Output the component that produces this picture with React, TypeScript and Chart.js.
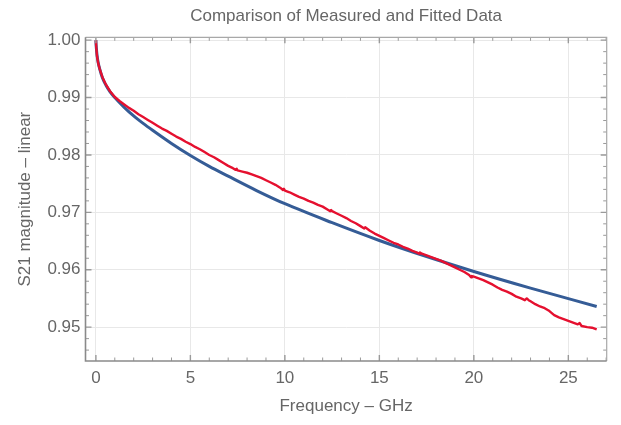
import React, { useEffect, useRef } from "react";
import { Chart, registerables } from "chart.js";

Chart.register(...registerables);

const chartTitle = "Comparison of Measured and Fitted Data";
const xTitle = "Frequency \u2013 GHz";
const yTitle = "S21 magnitude \u2013 linear";

// Measured S21 (red)
const freqMeasured = [
  0, 0.02, 0.06, 0.12, 0.2, 0.35, 0.54, 0.75, 1.0, 1.25, 1.5, 1.75, 2.0, 2.25, 2.5, 2.75, 3.0, 3.25, 3.5, 3.75,
  4.0, 4.25, 4.5, 4.75, 5.0, 5.25, 5.5, 5.75, 6.0, 6.25, 6.5, 6.75, 7.0, 7.25, 7.4, 7.45, 7.5, 7.75, 8.0, 8.25,
  8.5, 8.75, 9.0, 9.25, 9.5, 9.75, 9.9, 9.95, 10.0, 10.25, 10.5, 10.75, 11.0, 11.25, 11.5, 11.75, 12.0, 12.25, 12.4, 12.45,
  12.5, 12.75, 13.0, 13.25, 13.5, 13.75, 14.0, 14.2, 14.25, 14.5, 14.75, 15.0, 15.25, 15.5, 15.75, 16.0, 16.25, 16.5, 16.75, 17.0,
  17.1, 17.15, 17.25, 17.5, 17.75, 18.0, 18.25, 18.5, 18.75, 19.0, 19.25, 19.5, 19.75, 19.85, 19.9, 20.0, 20.25, 20.5, 20.75, 21.0,
  21.25, 21.5, 21.75, 22.0, 22.25, 22.5, 22.7, 22.8, 22.9, 23.0, 23.25, 23.5, 23.75, 24.0, 24.25, 24.5, 24.75, 25.0, 25.25, 25.5,
  25.6, 25.7, 26.0, 26.25, 26.5,
];
const s21Measured = [
  1.0, 0.9987, 0.9972, 0.996, 0.995, 0.9935, 0.9922, 0.9911, 0.9901, 0.9894, 0.9888, 0.9882, 0.9877, 0.9871, 0.9866, 0.9861, 0.9856, 0.9851, 0.9846, 0.9842,
  0.9837, 0.9832, 0.9828, 0.9823, 0.9819, 0.9814, 0.981, 0.9805, 0.98, 0.9796, 0.9791, 0.9786, 0.9781, 0.9777, 0.9774, 0.9776, 0.9773, 0.9771, 0.9769, 0.9766,
  0.9763, 0.976, 0.9756, 0.9752, 0.9748, 0.9743, 0.9739, 0.9741, 0.9738, 0.9735, 0.9731, 0.9727, 0.9724, 0.972, 0.9717, 0.9713, 0.971, 0.9705, 0.9702, 0.9704,
  0.9702, 0.9698, 0.9694, 0.969, 0.9685, 0.9681, 0.9676, 0.9672, 0.9674, 0.9668, 0.9663, 0.9659, 0.9655, 0.9651, 0.9647, 0.9644, 0.964, 0.9637, 0.9633, 0.963,
  0.9628, 0.963, 0.9628, 0.9625, 0.9622, 0.9619, 0.9616, 0.9612, 0.9608, 0.9604, 0.96, 0.9596, 0.9591, 0.9587, 0.9589, 0.9588, 0.9585, 0.9582, 0.9578, 0.9574,
  0.9569, 0.9565, 0.9562, 0.9558, 0.9553, 0.955, 0.9547, 0.955, 0.9547, 0.9545, 0.954, 0.9536, 0.9533, 0.9528, 0.9521, 0.9517, 0.9514, 0.9511, 0.9508, 0.9505,
  0.9507, 0.9502, 0.95, 0.9499, 0.9496,
];

// Fitted S21 (blue)
const freqFit = [0, 0.005, 0.02, 0.06, 0.12, 0.2, 0.35, 0.54, 0.75, 1.0, 1.5, 2, 2.5, 3, 4, 5, 6, 7, 8.5, 10, 12.5, 15, 17.5, 20, 23, 26.5];
const s21Fit = [1.0, 0.9995, 0.9988, 0.9974, 0.9961, 0.995, 0.9934, 0.9921, 0.991, 0.99, 0.9883, 0.9868, 0.9855, 0.9843, 0.982, 0.9799, 0.978, 0.9763, 0.9738, 0.9715, 0.9682, 0.9651, 0.9623, 0.9597, 0.9568, 0.9536];

const xMin = -0.55;
const xMax = 27.03;
const yMin = 0.9441;
const yMax = 1.0005;

const FONT = "'Liberation Sans', Arial, sans-serif";
const TEXT = "#666666";

const framePlugin = {
  id: "frameTicks",
  afterDatasetsDraw(chart: any) {
    const { ctx, chartArea } = chart;
    const { left, right, top, bottom } = chartArea;
    const xs = chart.scales.x;
    const ys = chart.scales.y;
    ctx.save();
    ctx.strokeStyle = "#9a9a9a";
    for (let f = 0; f <= 27; f++) {
      const px = xs.getPixelForValue(f);
      if (px < left || px > right) continue;
      const major = f % 5 === 0;
      const len = major ? 6 : 3.5;
      ctx.lineWidth = major ? 1.4 : 1;
      ctx.beginPath();
      ctx.moveTo(px, bottom);
      ctx.lineTo(px, bottom - len);
      ctx.moveTo(px, top);
      ctx.lineTo(px, top + len);
      ctx.stroke();
    }
    for (let i = 472; i <= 500; i++) {
      const v = i / 500;
      const py = ys.getPixelForValue(v);
      if (py < top - 0.5 || py > bottom) continue;
      const major = i % 5 === 0;
      const len = major ? 6 : 3.5;
      ctx.lineWidth = major ? 1.4 : 1;
      ctx.beginPath();
      ctx.moveTo(left, py);
      ctx.lineTo(left + len, py);
      ctx.moveTo(right, py);
      ctx.lineTo(right - len, py);
      ctx.stroke();
    }
    ctx.lineWidth = 1.2;
    ctx.strokeStyle = "#a8a8a8";
    ctx.beginPath();
    ctx.moveTo(left, top);
    ctx.lineTo(right, top);
    ctx.lineTo(right, bottom);
    ctx.stroke();
    ctx.lineWidth = 1.6;
    ctx.strokeStyle = "#8a8a8a";
    ctx.beginPath();
    ctx.moveTo(left, top);
    ctx.lineTo(left, bottom);
    ctx.lineTo(right, bottom);
    ctx.stroke();
    // chart title, centred over the plot frame
    ctx.fillStyle = TEXT;
    ctx.font = `17px ${FONT}`;
    ctx.textAlign = "center";
    ctx.textBaseline = "alphabetic";
    ctx.fillText(chartTitle, (left + right) / 2, 20.5);
    ctx.restore();
  },
};

export default function App() {
  const ref = useRef<HTMLCanvasElement | null>(null);
  useEffect(() => {
    if (!ref.current) return;
    const measured = freqMeasured.map((f, i) => ({ x: f, y: s21Measured[i] }));
    const fitted = freqFit.map((f, i) => ({ x: f, y: s21Fit[i] }));
    const chart = new Chart(ref.current, {
      type: "line",
      data: {
        datasets: [
          {
            label: "Measured",
            data: measured,
            borderColor: "#e5102f",
            borderWidth: 2.4,
            borderJoinStyle: "round",
            pointRadius: 0,
            tension: 0,
            order: 0,
          },
          {
            label: "Fitted",
            data: fitted,
            borderColor: "#355c96",
            borderWidth: 3,
            pointRadius: 0,
            cubicInterpolationMode: "monotone",
            order: 1,
          },
        ],
      },
      options: {
        animation: false,
        responsive: false,
        devicePixelRatio: 1,
        layout: { padding: { left: 0, right: 14.3, top: 37.3, bottom: 0 } },
        plugins: {
          legend: { display: false },
          tooltip: { enabled: false },
          title: { display: false },
        },
        scales: {
          x: {
            type: "linear",
            min: xMin,
            max: xMax,
            afterFit(scale: any) {
              scale.height = 64;
            },
            ticks: {
              stepSize: 5,
              includeBounds: false,
              color: TEXT,
              padding: 7,
              maxRotation: 0,
              font: { family: FONT, size: 17 },
              callback: (v: any) => String(v),
            },
            grid: { color: "#e8e8e8", lineWidth: 1, drawTicks: false },
            border: { display: false },
            title: {
              display: true,
              text: xTitle,
              color: TEXT,
              font: { family: FONT, size: 17, lineHeight: 1.2 },
              padding: { top: 0, bottom: 8 },
            },
          },
          y: {
            type: "linear",
            min: yMin,
            max: yMax,
            afterFit(scale: any) {
              scale.width = 85.5;
            },
            ticks: {
              stepSize: 0.01,
              includeBounds: false,
              color: TEXT,
              padding: 5,
              font: { family: FONT, size: 17 },
              callback: (v: any) => Number(v).toFixed(2),
            },
            grid: { color: "#e8e8e8", lineWidth: 1, drawTicks: false },
            border: { display: false },
            title: {
              display: true,
              text: yTitle,
              color: TEXT,
              font: { family: FONT, size: 17, lineHeight: 1.2 },
              padding: { top: 15.6, bottom: 0 },
            },
          },
        },
      },
      plugins: [framePlugin],
    });
    return () => chart.destroy();
  }, []);
  return (
    <div style={{ position: "absolute", left: 0, top: 0, width: 621, height: 425, background: "#fff" }}>
      <canvas ref={ref} width={621} height={425} />
    </div>
  );
}
